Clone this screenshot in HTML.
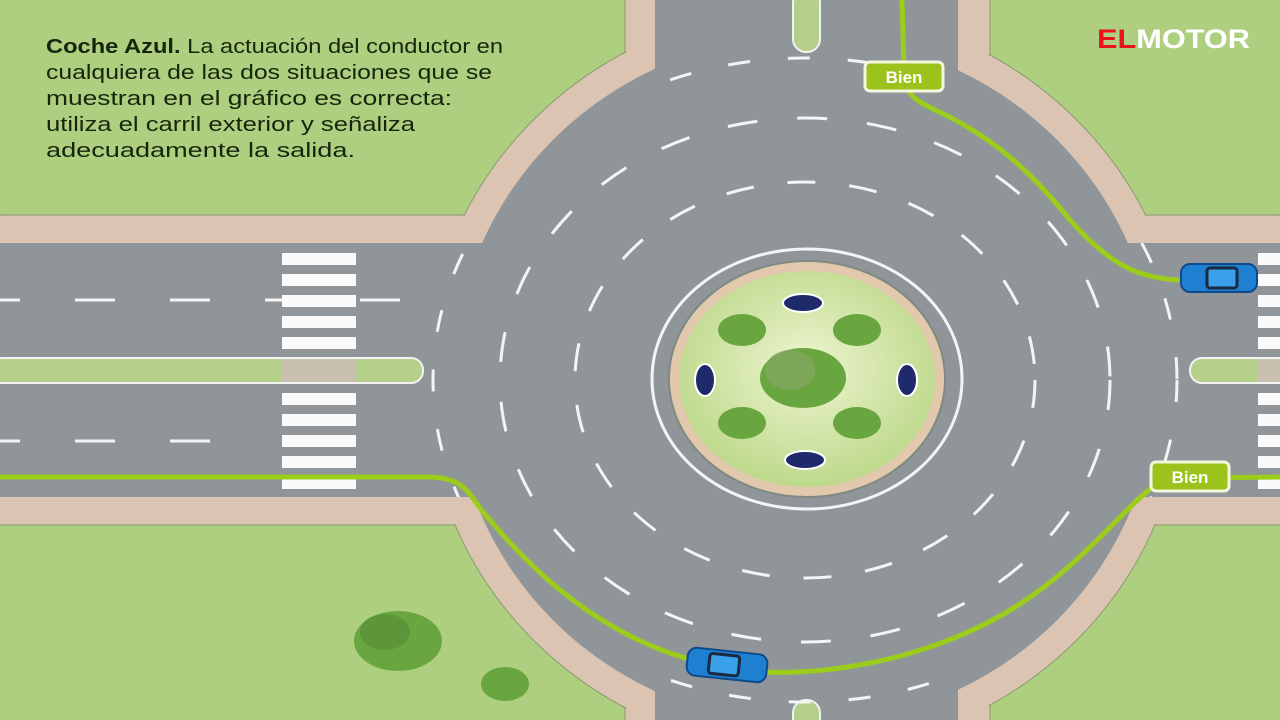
<!DOCTYPE html>
<html><head><meta charset="utf-8"><style>
html,body{margin:0;padding:0;width:1280px;height:720px;overflow:hidden;background:#aecf80}
svg{display:block;overflow:hidden}
</style></head><body>
<svg width="1280" height="720" viewBox="0 0 1280 720" xmlns="http://www.w3.org/2000/svg">
<defs>
<radialGradient id="isl" cx="0.5" cy="0.45" r="0.6"><stop offset="0" stop-color="#eef5d0"/><stop offset="1" stop-color="#b9d685"/></radialGradient>
<clipPath id="bands"><rect x="0" y="243" width="1280" height="254"/><rect x="655" y="0" width="303" height="720"/></clipPath>
</defs>
<rect width="1280" height="720" fill="#aecf80"/>
<g fill="#dcc4b2" stroke="#8a9a70" stroke-width="1">
<rect x="0" y="215" width="1280" height="310"/>
<rect x="625" y="0" width="365" height="720"/>
<ellipse cx="805" cy="380" rx="380" ry="372"/>
</g>
<g fill="#dcc4b2">
<rect x="0" y="216" width="1280" height="308"/>
<rect x="626" y="0" width="363" height="720"/>
</g>
<g fill="#8f9599">
<rect x="0" y="243" width="1280" height="254"/>
<rect x="655" y="0" width="303" height="720"/>
<ellipse cx="805" cy="380" rx="352" ry="344"/>
</g>
<rect x="-10" y="358" width="433" height="25" rx="12" fill="#b5d08a" stroke="#f2f2f2" stroke-width="2"/>
<rect x="282" y="359" width="74" height="23" fill="#c8c0b0"/>
<rect x="1190" y="358" width="100" height="25" rx="12" fill="#b5d08a" stroke="#f2f2f2" stroke-width="2"/>
<rect x="1258" y="359" width="22" height="23" fill="#c8c0b0"/>
<rect x="793" y="-10" width="27" height="62" rx="13" fill="#b5d08a" stroke="#f2f2f2" stroke-width="2"/>
<rect x="793" y="700" width="27" height="40" rx="13" fill="#b5d08a" stroke="#f2f2f2" stroke-width="2"/>
<g stroke="#f4f4f4" stroke-width="3">
<line x1="0" y1="300" x2="400" y2="300" stroke-dasharray="40 55" stroke-dashoffset="20"/>
<line x1="0" y1="441" x2="215" y2="441" stroke-dasharray="40 55" stroke-dashoffset="20"/>
</g>
<g fill="#fafafa">
<rect x="282" y="253" width="74" height="12"/><rect x="282" y="274" width="74" height="12"/><rect x="282" y="295" width="74" height="12"/><rect x="282" y="316" width="74" height="12"/><rect x="282" y="337" width="74" height="12"/>
<rect x="282" y="393" width="74" height="12"/><rect x="282" y="414" width="74" height="12"/><rect x="282" y="435" width="74" height="12"/><rect x="282" y="456" width="74" height="12"/><rect x="282" y="477" width="74" height="12"/>
<rect x="1258" y="253" width="22" height="12"/><rect x="1258" y="274" width="22" height="12"/><rect x="1258" y="295" width="22" height="12"/><rect x="1258" y="316" width="22" height="12"/><rect x="1258" y="337" width="22" height="12"/>
<rect x="1258" y="393" width="22" height="12"/><rect x="1258" y="414" width="22" height="12"/><rect x="1258" y="435" width="22" height="12"/><rect x="1258" y="456" width="22" height="12"/><rect x="1258" y="477" width="22" height="12"/>
</g>
<g fill="none" stroke="#f4f4f4" stroke-width="3">
<ellipse cx="805" cy="380" rx="230" ry="198" stroke-dasharray="28 34"/>
<ellipse cx="805" cy="380" rx="305" ry="262" stroke-dasharray="30 40"/>
<ellipse cx="805" cy="380" rx="372" ry="322" stroke-dasharray="22 38" clip-path="url(#bands)"/>
</g>
<ellipse cx="807" cy="379" rx="155" ry="130" fill="none" stroke="#f4f4f4" stroke-width="3"/>
<ellipse cx="807" cy="379" rx="138" ry="118" fill="#e2c9ae" stroke="#7f8a80" stroke-width="2"/>
<ellipse cx="807" cy="379" rx="128" ry="108" fill="url(#isl)"/>
<g fill="#6aa640">
<ellipse cx="742" cy="330" rx="24" ry="16"/><ellipse cx="857" cy="330" rx="24" ry="16"/>
<ellipse cx="742" cy="423" rx="24" ry="16"/><ellipse cx="857" cy="423" rx="24" ry="16"/>
<ellipse cx="803" cy="378" rx="43" ry="30"/>
</g>
<ellipse cx="790" cy="370" rx="25" ry="20" fill="#8aa66a" opacity=".6"/>
<g fill="#1f2a6a" stroke="#fff" stroke-width="2">
<ellipse cx="803" cy="303" rx="20" ry="9"/><ellipse cx="805" cy="460" rx="20" ry="9"/>
<ellipse cx="705" cy="380" rx="10" ry="16"/><ellipse cx="907" cy="380" rx="10" ry="16"/>
</g>
<ellipse cx="398" cy="641" rx="44" ry="30" fill="#6aa640"/>
<ellipse cx="385" cy="632" rx="25" ry="18" fill="#5d9638"/>
<ellipse cx="505" cy="684" rx="24" ry="17" fill="#6aa640"/>
<g fill="none" stroke="#9ccc1c" stroke-width="5" stroke-linecap="round">
<path d="M0 477 L430 477 C470 478 470 500 490 520 C540 580 610 640 700 662"/>
<path d="M760 672 C850 676 960 650 1040 590 C1100 545 1130 500 1165 478 L1280 477"/>
<path d="M902 0 L904 70 C905 95 915 100 935 110 C990 135 1030 170 1070 220 C1110 265 1140 280 1185 280"/>
</g>
<g transform="translate(727,665) rotate(6)">
<rect x="-40" y="-14" width="80" height="28" rx="9" fill="#1f7fd0" stroke="#0d4a8a" stroke-width="2"/>
<rect x="-18" y="-10" width="30" height="20" rx="3" fill="#3aa0ea" stroke="#1a2a40" stroke-width="3"/>
</g>
<g transform="translate(1219,278)">
<rect x="-38" y="-14" width="76" height="28" rx="9" fill="#1f7fd0" stroke="#0d4a8a" stroke-width="2"/>
<rect x="-12" y="-10" width="30" height="20" rx="3" fill="#3aa0ea" stroke="#1a2a40" stroke-width="3"/>
</g>
<g font-family="Liberation Sans, sans-serif" font-weight="bold" font-size="17" fill="#fff" text-anchor="middle">
<rect x="865" y="62" width="78" height="29" rx="5" fill="#9cc21c" stroke="#f4f6e0" stroke-width="3"/>
<text x="904" y="83">Bien</text>
<rect x="1151" y="462" width="78" height="29" rx="5" fill="#9cc21c" stroke="#f4f6e0" stroke-width="3"/>
<text x="1190" y="483">Bien</text>
</g>
<g font-family="Liberation Sans, sans-serif" font-size="20" fill="#16260c">
<text x="46" y="53" textLength="457" lengthAdjust="spacingAndGlyphs"><tspan font-weight="bold">Coche Azul.</tspan> La actuación del conductor en</text>
<text x="46" y="79" textLength="446" lengthAdjust="spacingAndGlyphs">cualquiera de las dos situaciones que se</text>
<text x="46" y="105" textLength="406" lengthAdjust="spacingAndGlyphs">muestran en el gráfico es correcta:</text>
<text x="46" y="131" textLength="369" lengthAdjust="spacingAndGlyphs">utiliza el carril exterior y señaliza</text>
<text x="46" y="157" textLength="309" lengthAdjust="spacingAndGlyphs">adecuadamente la salida.</text>
</g>
<text x="1097" y="48" font-family="Liberation Sans, sans-serif" font-weight="bold" font-size="27" fill="#fff" textLength="153" lengthAdjust="spacingAndGlyphs"><tspan fill="#e8141c">EL</tspan>MOTOR</text>
</svg>
</body></html>
